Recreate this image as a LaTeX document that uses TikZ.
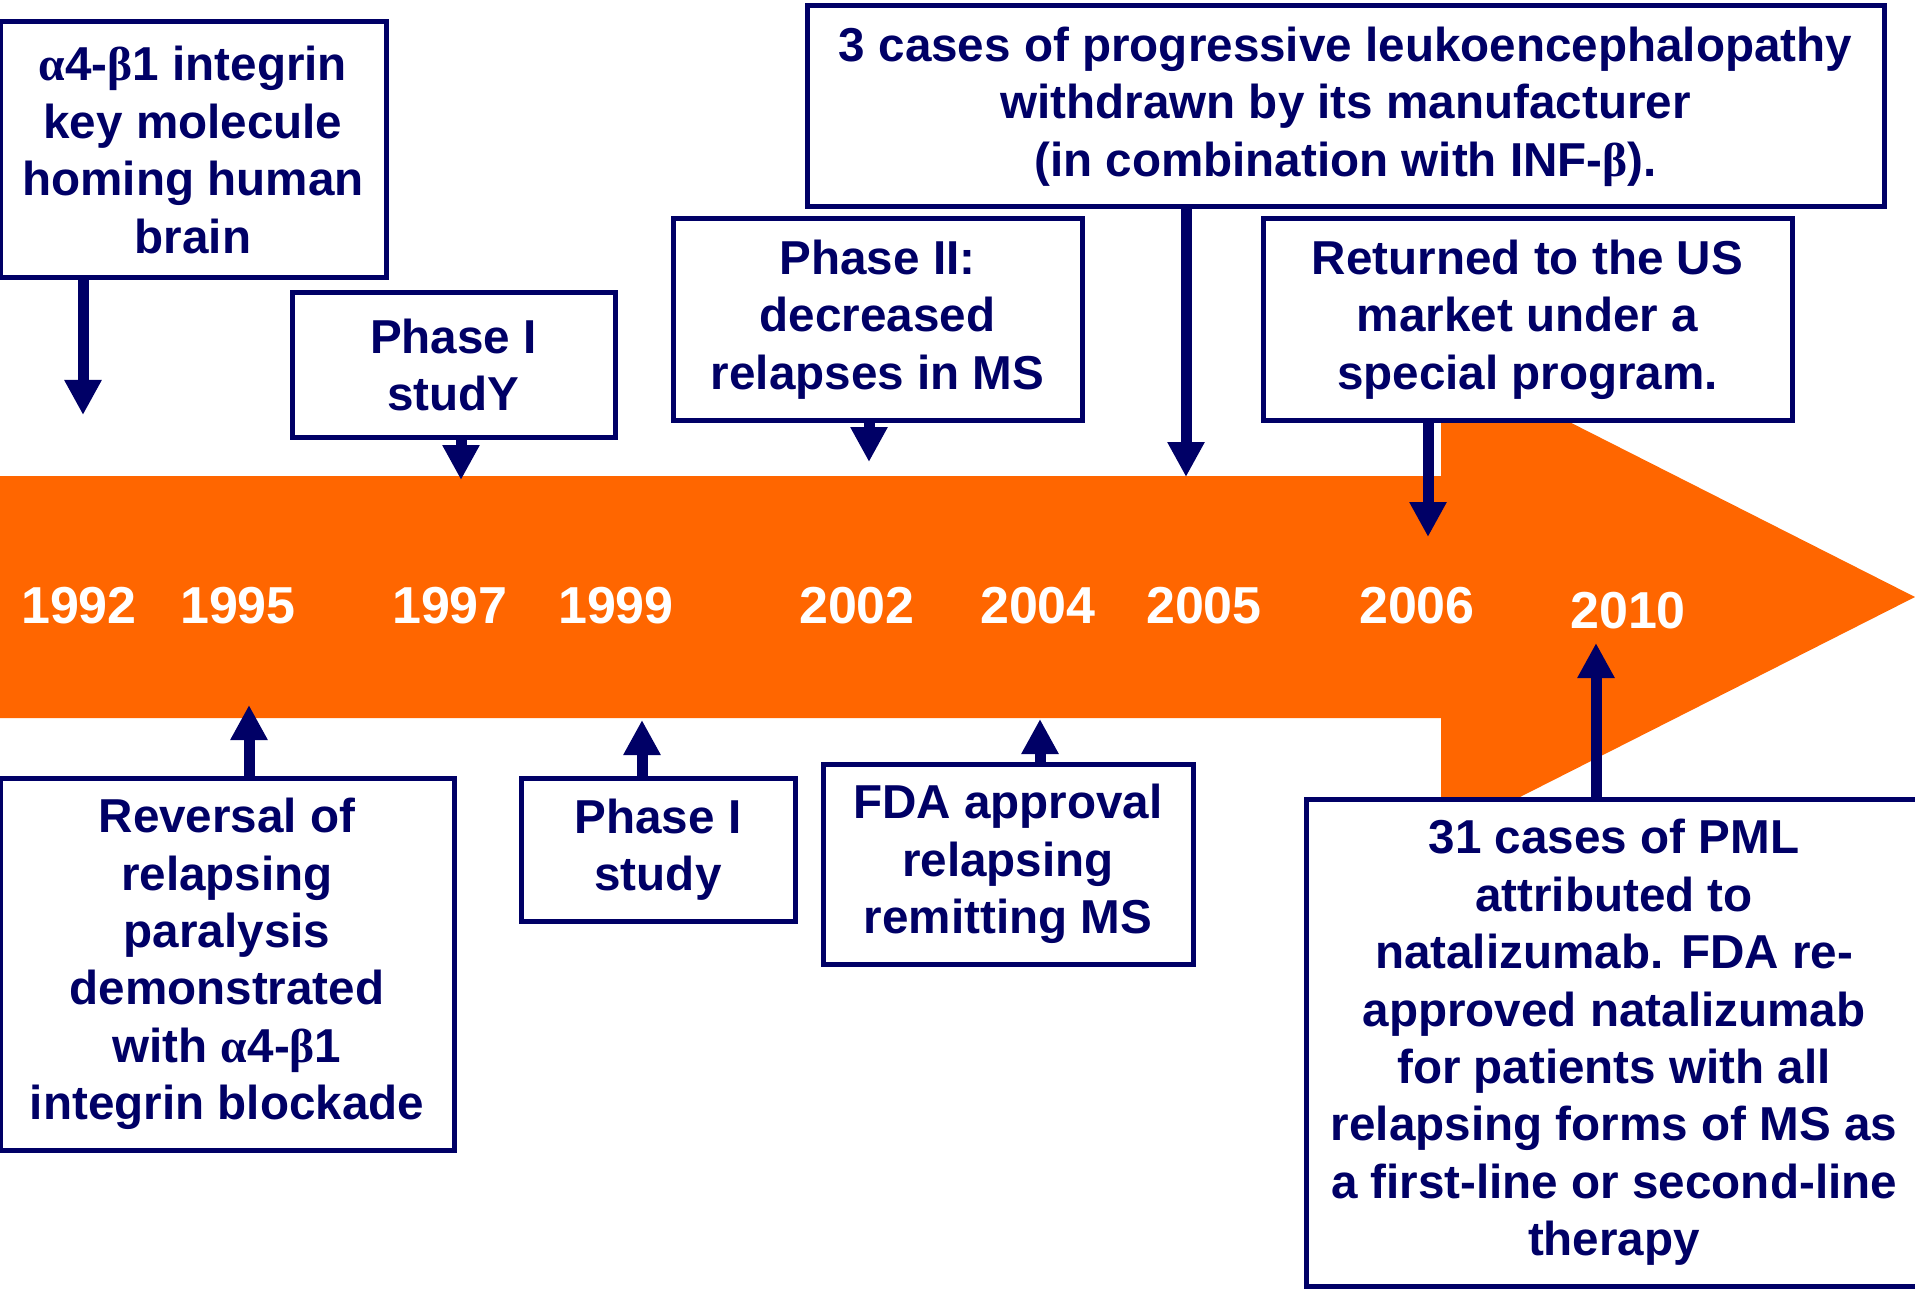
\documentclass[tikz,border=0pt]{standalone}
\usepackage{fontspec}
\setmainfont{Liberation Sans}
\newfontfamily\grk{Liberation Serif}
\usetikzlibrary{arrows.meta}
\definecolor{navy}{RGB}{0,0,102}
\definecolor{barorange}{RGB}{255,102,0}

\begin{document}
\begin{tikzpicture}[x=1pt,y=-1pt,>={Triangle[width=35pt,length=35pt]}]
\tikzstyle{box}=[draw=navy,fill=white,text=navy,line width=5pt,align=center,inner sep=0pt,font=\fontsize{47.6}{57.4}\selectfont\bfseries]
\tikzstyle{year}=[text=white,font=\fontsize{52}{60}\selectfont\bfseries]
\tikzstyle{pointer}=[->,draw=navy,fill=navy,line width=11pt]
\useasboundingbox (0,0) rectangle (1915,1297);
% the time bar
\fill[barorange] (0,476) -- (1441,476) -- (1441,357) -- (1915,597) -- (1441,837) -- (1441,718) -- (0,718) -- cycle;
\foreach \yr/\px/\py in {1992/79/606,1995/238/606,1997/450/606,1999/616/606,2002/857/606,2004/1038/606,2005/1204/606,2006/1417/606,2010/1628/611}
  \node[year] (y\yr) at (\px,\py) {\yr};
% events above
\node[box,minimum width=386pt,minimum height=256pt] (A) at (193,150) {{\grk α}4-{\grk β}1 integrin\\key molecule\\homing human\\brain};
\node[box,minimum width=323pt,minimum height=144pt] (B) at (453.5,365) {Phase I\\studY};
\node[box,minimum width=1077pt,minimum height=201pt] (C) at (1345.5,106.5) {3 cases of progressive leukoencephalopathy\\withdrawn by its manufacturer\\(in combination with INF-{\grk β}).};
\node[box,minimum width=409pt,minimum height=201pt] (D) at (877.5,319.5) {Phase II:\\decreased\\relapses in MS};
\node[box,minimum width=529pt,minimum height=201pt] (E) at (1527.5,319.5) {Returned to the US\\market under a\\special program.};
% events below
\node[box,minimum width=454pt,minimum height=372pt] (F) at (227,964) {Reversal of\\relapsing\\paralysis\\demonstrated\\with {\grk α}4-{\grk β}1\\integrin blockade};
\node[box,minimum width=274pt,minimum height=143pt] (G) at (658,849.5) {Phase I\\study};
\node[box,minimum width=370pt,minimum height=200pt] (H) at (1008,864) {FDA approval\\relapsing\\remitting MS};
\node[box,minimum width=616pt,minimum height=487pt] (I) at (1614,1042.5) {31 cases of PML\\attributed to\\natalizumab. FDA re-\\approved natalizumab\\for patients with all\\relapsing forms of MS as\\a first-line or second-line\\therapy};
% pointers to the bar
\foreach \b/\px/\py in {A/83/415,B/461/480,C/1186/477,D/869/462,E/1428/537}{
  \coordinate (t\b) at (\px,\py);
  \draw[pointer] (\b.south -| t\b) -- (t\b);
}
\foreach \b/\px/\py in {F/249/705,G/642/720,H/1040/719,I/1596/643}{
  \coordinate (t\b) at (\px,\py);
  \draw[pointer] (\b.north -| t\b) -- (t\b);
}
\end{tikzpicture}
\end{document}
